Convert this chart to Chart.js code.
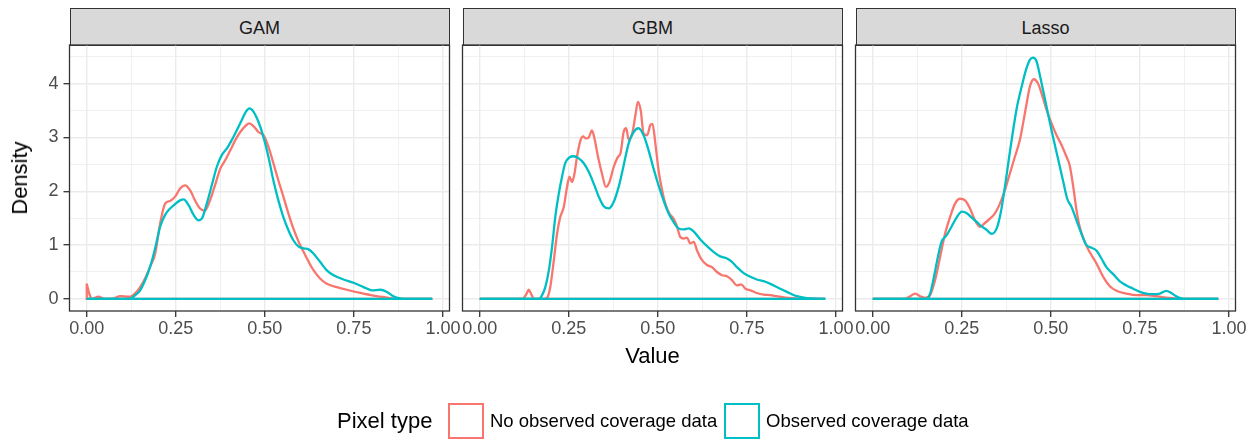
<!DOCTYPE html>
<html>
<head>
<meta charset="utf-8">
<script src="https://cdn.jsdelivr.net/npm/chart.js@4.4.1/dist/chart.umd.min.js"></script>
<style>
    body { margin: 0; width: 1260px; height: 440px; background: #fff; position: relative; overflow: hidden;
           font-family: "Liberation Sans", Arial, sans-serif; }
    canvas { position: absolute; left: 0; top: 0; }
    .strip { position: absolute; top: 8px; height: 38px; width: 380px; box-sizing: border-box;
             background: #D9D9D9; border: 1.3px solid #333; text-align: center;
             font-size: 18px; line-height: 38px; color: #1A1A1A; }
    .title { position: absolute; font-size: 22px; line-height: 22px; color: #000; white-space: nowrap; }
    .key { position: absolute; top: 403px; width: 36px; height: 36px; box-sizing: border-box; border: 2px solid; background: #fff; }
    .keytext { position: absolute; top: 411px; font-size: 18.5px; line-height: 20px; color: #000; white-space: nowrap; }
</style>
</head>
<body>
<div class="strip" style="left:69.5px">GAM</div>
<div class="strip" style="left:462.5px">GBM</div>
<div class="strip" style="left:855.5px">Lasso</div>
<canvas id="panel0" width="1260" height="440"></canvas>
<canvas id="panel1" width="1260" height="440"></canvas>
<canvas id="panel2" width="1260" height="440"></canvas>
<div class="title" style="left:652.5px;top:345px;transform:translateX(-50%)">Value</div>
<div class="title" style="left:20px;top:178px;transform:translate(-50%,-50%) rotate(-90deg)">Density</div>
<div class="title" style="left:337px;top:410px">Pixel type</div>
<div class="key" style="left:448px;border-color:#F8766D"></div>
<div class="keytext" style="left:490px">No observed coverage data</div>
<div class="key" style="left:724px;border-color:#00BFC4"></div>
<div class="keytext" style="left:766px">Observed coverage data</div>
<script>
// Кривые плотности (x = Value, y = Density)
const gamNoObsX = [0, 0.007, 0.014, 0.033, 0.05, 0.075, 0.094, 0.12, 0.135, 0.15, 0.165, 0.178, 0.192, 0.206, 0.22,
    0.234, 0.248, 0.262, 0.276, 0.29, 0.304, 0.318, 0.332, 0.346, 0.36, 0.375, 0.389, 0.403, 0.417, 0.431,
    0.445, 0.456, 0.468, 0.482, 0.496, 0.51, 0.524, 0.538, 0.552, 0.566, 0.58, 0.595, 0.609, 0.623, 0.637,
    0.655, 0.674, 0.702, 0.73, 0.768, 0.805, 0.843, 0.88, 0.97];
const gamNoObsY = [0.28, 0.1, 0, 0.04, 0, 0.01, 0.05, 0.04, 0.1, 0.22, 0.4, 0.6, 0.84, 1.4, 1.77,
    1.82, 1.9, 2.05, 2.11, 2.02, 1.83, 1.68, 1.64, 1.83, 2.11, 2.42, 2.58, 2.76, 2.95, 3.1,
    3.21, 3.26, 3.21, 3.1, 3.04, 2.83, 2.52, 2.2, 1.9, 1.59, 1.31, 1.06, 0.87, 0.69, 0.53,
    0.38, 0.28, 0.22, 0.17, 0.11, 0.06, 0.025, 0, 0];
const gamObsX = [0, 0.12, 0.136, 0.15, 0.164, 0.178, 0.192, 0.206, 0.22, 0.234, 0.248, 0.262, 0.272, 0.286, 0.3,
    0.314, 0.323, 0.337, 0.351, 0.365, 0.379, 0.393, 0.407, 0.421, 0.435, 0.447, 0.457, 0.468, 0.482, 0.496,
    0.51, 0.524, 0.538, 0.552, 0.566, 0.58, 0.595, 0.609, 0.623, 0.637, 0.655, 0.674, 0.693, 0.721, 0.749,
    0.777, 0.8, 0.824, 0.843, 0.861, 0.88, 0.9, 0.97];
const gamObsY = [0, 0, 0.07, 0.16, 0.35, 0.6, 0.94, 1.34, 1.56, 1.68, 1.76, 1.83, 1.85, 1.74, 1.56,
    1.46, 1.49, 1.77, 2.11, 2.45, 2.67, 2.79, 2.95, 3.13, 3.32, 3.48, 3.54, 3.48, 3.29, 3.01,
    2.64, 2.2, 1.83, 1.52, 1.28, 1.09, 0.97, 0.94, 0.92, 0.84, 0.69, 0.53, 0.44, 0.36, 0.3,
    0.22, 0.16, 0.17, 0.13, 0.05, 0.01, 0, 0];

const gbmNoObsX = [0, 0.12, 0.13, 0.1375, 0.145, 0.152, 0.18, 0.189, 0.198, 0.208, 0.217, 0.226, 0.236, 0.245, 0.252,
    0.259, 0.266, 0.273, 0.283, 0.29, 0.298, 0.306, 0.315, 0.323, 0.332, 0.343, 0.354, 0.364, 0.376, 0.388,
    0.395, 0.404, 0.411, 0.418, 0.428, 0.437, 0.444, 0.452, 0.46, 0.47, 0.479, 0.485, 0.493, 0.502, 0.512,
    0.521, 0.532, 0.544, 0.554, 0.563, 0.573, 0.582, 0.591, 0.601, 0.61, 0.624, 0.638, 0.652, 0.666, 0.68,
    0.694, 0.708, 0.722, 0.734, 0.746, 0.76, 0.778, 0.797, 0.816, 0.834, 0.858, 0.886, 0.914, 0.97];
const gbmNoObsY = [0, 0, 0.08, 0.17, 0.08, 0, 0, 0.02, 0.22, 0.72, 1.21, 1.52, 1.71, 2.08, 2.27,
    2.17, 2.33, 2.64, 2.95, 3.02, 2.98, 3.0, 3.13, 2.95, 2.64, 2.33, 2.08, 2.17, 2.45, 2.64,
    2.7, 3.1, 3.17, 2.96, 3.07, 3.41, 3.66, 3.5, 3.07, 3.04, 3.23, 3.25, 2.89, 2.39, 2.02,
    1.77, 1.59, 1.49, 1.34, 1.15, 1.12, 1.14, 1.03, 1.06, 0.9, 0.72, 0.63, 0.59, 0.5, 0.44,
    0.42, 0.35, 0.25, 0.27, 0.19, 0.16, 0.11, 0.08, 0.07, 0.05, 0.025, 0.01, 0, 0];
const gbmObsX = [0, 0.166, 0.175, 0.184, 0.194, 0.203, 0.212, 0.222, 0.231, 0.24, 0.252, 0.264, 0.278, 0.292, 0.306,
    0.32, 0.334, 0.348, 0.362, 0.376, 0.39, 0.404, 0.418, 0.432, 0.446, 0.46, 0.474, 0.488, 0.502, 0.516,
    0.53, 0.544, 0.558, 0.573, 0.587, 0.601, 0.62, 0.638, 0.657, 0.675, 0.694, 0.708, 0.722, 0.741, 0.76,
    0.778, 0.797, 0.816, 0.834, 0.853, 0.872, 0.89, 0.914, 0.942, 0.97];
const gbmObsY = [0, 0, 0.07, 0.22, 0.53, 0.97, 1.52, 1.96, 2.27, 2.52, 2.63, 2.65, 2.61, 2.52, 2.36,
    2.14, 1.9, 1.72, 1.68, 1.8, 2.08, 2.48, 2.89, 3.1, 3.17, 3.04, 2.76, 2.42, 2.11, 1.83,
    1.59, 1.43, 1.31, 1.29, 1.31, 1.25, 1.1, 0.98, 0.87, 0.79, 0.75, 0.69, 0.59, 0.48, 0.41,
    0.36, 0.33, 0.28, 0.22, 0.16, 0.1, 0.05, 0.02, 0.005, 0];

const lassoNoObsX = [0, 0.09, 0.105, 0.119, 0.133, 0.147, 0.161, 0.175, 0.189, 0.203, 0.217, 0.231, 0.245, 0.259, 0.273,
    0.287, 0.301, 0.315, 0.329, 0.343, 0.357, 0.371, 0.385, 0.399, 0.413, 0.422, 0.432, 0.441, 0.452, 0.464,
    0.477, 0.488, 0.502, 0.516, 0.53, 0.544, 0.553, 0.563, 0.572, 0.581, 0.595, 0.609, 0.628, 0.647, 0.665,
    0.684, 0.712, 0.74, 0.768, 0.796, 0.824, 0.852, 0.871, 0.97];
const lassoNoObsY = [0, 0, 0.05, 0.1, 0.05, 0.02, 0.07, 0.35, 0.78, 1.21, 1.52, 1.77, 1.86, 1.83, 1.68,
    1.46, 1.34, 1.41, 1.49, 1.59, 1.77, 2.02, 2.33, 2.64, 2.95, 3.26, 3.63, 3.94, 4.08, 4.0,
    3.75, 3.51, 3.26, 3.04, 2.86, 2.64, 2.48, 2.08, 1.65, 1.34, 1.06, 0.87, 0.66, 0.41, 0.24,
    0.15, 0.1, 0.07, 0.07, 0.05, 0.025, 0.01, 0, 0];
const lassoObsX = [0, 0.151, 0.161, 0.17, 0.181, 0.193, 0.207, 0.221, 0.236, 0.25, 0.264, 0.278, 0.292, 0.305, 0.32,
    0.334, 0.348, 0.359, 0.371, 0.383, 0.394, 0.405, 0.418, 0.43, 0.441, 0.45, 0.46, 0.469, 0.48, 0.492,
    0.506, 0.521, 0.535, 0.546, 0.558, 0.572, 0.586, 0.6, 0.614, 0.628, 0.642, 0.656, 0.675, 0.693, 0.712,
    0.731, 0.75, 0.768, 0.787, 0.806, 0.824, 0.838, 0.852, 0.866, 0.88, 0.97];
const lassoObsY = [0, 0, 0.1, 0.35, 0.72, 1.06, 1.18, 1.34, 1.52, 1.62, 1.59, 1.51, 1.43, 1.35, 1.28,
    1.21, 1.31, 1.59, 2.08, 2.64, 3.13, 3.57, 3.94, 4.25, 4.44, 4.48, 4.41, 4.16, 3.82, 3.44,
    3.01, 2.58, 2.17, 1.86, 1.71, 1.46, 1.21, 1.0, 0.95, 0.9, 0.75, 0.59, 0.46, 0.33, 0.25,
    0.19, 0.13, 0.1, 0.09, 0.1, 0.15, 0.11, 0.05, 0.01, 0, 0];

// Оси
const valueMax = 0.97;
const xLimits = [-0.0485, 1.0185];
const yLimits = [-0.2245, 4.716];
const xMajor = [0, 0.25, 0.5, 0.75, 1];
const xMinor = [0.125, 0.375, 0.625, 0.875];
const yMajor = [0, 1, 2, 3, 4];
const yMinor = [0.5, 1.5, 2.5, 3.5, 4.5];

const RED = '#F8766D';
const CYAN = '#00BFC4';

Chart.defaults.font.family = '"Liberation Sans", Arial, sans-serif';

const panels = [
    { left: 69.5, yLabels: true, noObs: [gamNoObsX, gamNoObsY], obs: [gamObsX, gamObsY] },
    { left: 462.5, yLabels: false, noObs: [gbmNoObsX, gbmNoObsY], obs: [gbmObsX, gbmObsY] },
    { left: 855.5, yLabels: false, noObs: [lassoNoObsX, lassoNoObsY], obs: [lassoObsX, lassoObsY] }
];
const panelWidth = 380;
const plotTop = 45;
const plotBottom = 311;

function toPoints(xs, ys) {
    return xs.map((x, i) => ({ x: x, y: ys[i] }));
}

// нижняя сторона полигона geom_density
function baseline(ys) {
    return [{ x: 0, y: ys[0] }, { x: 0, y: 0 }, { x: valueMax, y: 0 }, { x: valueMax, y: ys[ys.length - 1] }];
}

function curve(points, color) {
    return { data: points, borderColor: color, borderWidth: 2.3, pointRadius: 0, fill: false, cubicInterpolationMode: 'monotone' };
}

function edge(points, color) {
    return { data: points, borderColor: color, borderWidth: 2.3, pointRadius: 0, fill: false, tension: 0 };
}

function isMajor(ctx, list) {
    return ctx.tick && list.includes(ctx.tick.value);
}

function tickList(major, minor) {
    return major.concat(minor).sort((a, b) => a - b).map(v => ({ value: v }));
}

const panelBorder = {
    id: 'panelBorder',
    afterDatasetsDraw(chart) {
        const a = chart.chartArea;
        const ctx = chart.ctx;
        ctx.save();
        ctx.strokeStyle = '#333333';
        ctx.lineWidth = 1.3;
        ctx.strokeRect(a.left, a.top, a.right - a.left, a.bottom - a.top);
        ctx.restore();
    }
};

panels.forEach((p, i) => {
    const yWidth = p.yLabels ? p.left : 0;
    new Chart(document.getElementById('panel' + i), {
        type: 'line',
        data: {
            datasets: [
                curve(toPoints(p.obs[0], p.obs[1]), CYAN),
                edge(baseline(p.obs[1]), CYAN),
                curve(toPoints(p.noObs[0], p.noObs[1]), RED),
                edge(baseline(p.noObs[1]), RED)
            ]
        },
        options: {
            responsive: false,
            animation: false,
            layout: {
                padding: { left: p.left - yWidth, right: 1260 - p.left - panelWidth, top: plotTop, bottom: 440 - plotBottom - 40 }
            },
            plugins: { legend: { display: false }, tooltip: { enabled: false } },
            scales: {
                x: {
                    type: 'linear',
                    min: xLimits[0],
                    max: xLimits[1],
                    afterBuildTicks: s => { s.ticks = tickList(xMajor, xMinor); },
                    afterFit: s => { s.height = 40; },
                    border: { display: false },
                    grid: {
                        color: '#EBEBEB',
                        lineWidth: c => isMajor(c, xMajor) ? 1.4 : 0.7,
                        drawTicks: true,
                        tickLength: 6,
                        tickWidth: 1.3,
                        tickColor: c => isMajor(c, xMajor) ? '#333333' : 'rgba(0,0,0,0)'
                    },
                    ticks: {
                        autoSkip: false,
                        maxRotation: 0,
                        padding: 1,
                        color: '#4D4D4D',
                        font: { size: 18 },
                        callback: v => xMajor.includes(v) ? v.toFixed(2) : ''
                    }
                },
                y: {
                    type: 'linear',
                    min: yLimits[0],
                    max: yLimits[1],
                    afterBuildTicks: s => { s.ticks = tickList(yMajor, yMinor); },
                    afterFit: s => { s.width = yWidth; },
                    border: { display: false },
                    grid: {
                        color: '#EBEBEB',
                        lineWidth: c => isMajor(c, yMajor) ? 1.4 : 0.7,
                        drawTicks: p.yLabels,
                        tickLength: 6,
                        tickWidth: 1.3,
                        tickColor: c => isMajor(c, yMajor) ? '#333333' : 'rgba(0,0,0,0)'
                    },
                    ticks: {
                        display: p.yLabels,
                        autoSkip: false,
                        padding: 5,
                        color: '#4D4D4D',
                        font: { size: 18 },
                        callback: v => yMajor.includes(v) ? String(v) : ''
                    }
                }
            }
        },
        plugins: [panelBorder]
    });
});
</script>
</body>
</html>
